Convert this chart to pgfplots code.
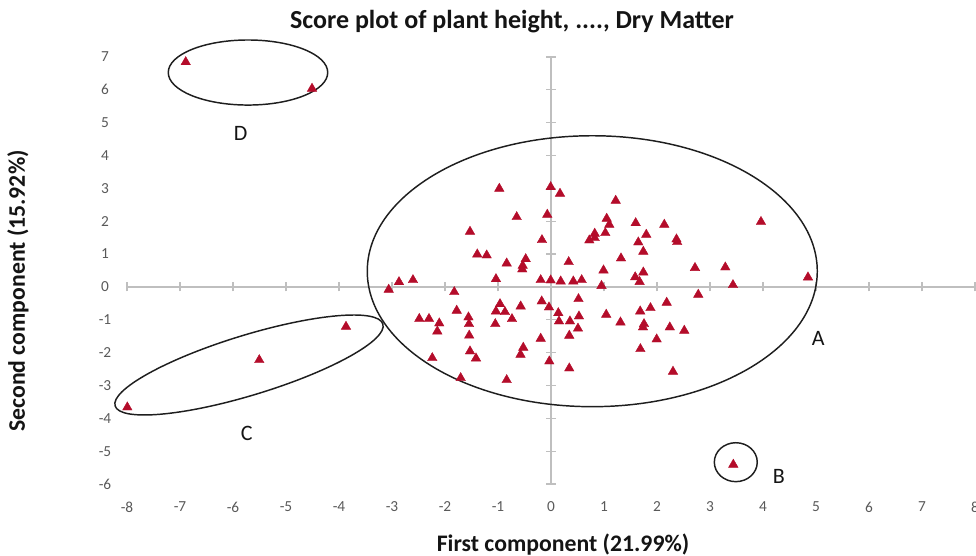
\documentclass[border=0pt]{standalone}
\usepackage{pgfplots}
\pgfplotsset{compat=1.18}
\usepackage{fontspec}
\setmainfont{Carlito}
\definecolor{mk}{RGB}{180,12,42}
\definecolor{axgray}{RGB}{191,191,191}
\definecolor{lblgray}{RGB}{89,89,89}
\definecolor{ellcol}{RGB}{30,30,30}
\definecolor{txt}{RGB}{20,20,20}

\begin{document}
\begin{tikzpicture}
\begin{axis}[
  scale only axis, width=636pt, height=320.25pt,
  xmin=-8, xmax=8, ymin=-6, ymax=7,
  clip=false,
  axis line style={draw=none},
  major tick length=0pt,
  xtick={-8,-7,-6,-5,-4,-3,-2,-1,0,1,2,3,4,5,6,7,8},
  ytick={-6,-5,-4,-3,-2,-1,0,1,2,3,4,5,6,7},
  xticklabels={-8,-7,-6,-5,-4,-3,-2,-1,0,1,2,3,4,5,6,7,8},
  yticklabels={-6,-5,-4,-3,-2,-1,0,1,2,3,4,5,6,7},
  xticklabel style={anchor=center, yshift=-17.25pt, font=\fontsize{11.5}{13}\selectfont, text=lblgray},
  yticklabel style={anchor=center, xshift=-16.5pt, font=\fontsize{11.5}{13}\selectfont, text=lblgray},
]
\draw[axgray, line width=0.9pt] (axis cs:-8,0) -- (axis cs:8,0);
\draw[axgray, line width=0.9pt] (axis cs:0,-6) -- (axis cs:0,7);
\pgfplotsinvokeforeach{-8,-7,-6,-5,-4,-3,-2,-1,0,1,2,3,4,5,6,7,8}{\draw[axgray, line width=0.9pt] ([yshift=-3.4pt]axis cs:#1,0) -- ([yshift=3.4pt]axis cs:#1,0);}
\pgfplotsinvokeforeach{-6,-5,-4,-3,-2,-1,0,1,2,3,4,5,6,7}{\draw[axgray, line width=0.9pt] ([xshift=-3.4pt]axis cs:0,#1) -- ([xshift=3.4pt]axis cs:0,#1);}

\draw[ellcol, line width=1.1pt] (axis cs:0.779,0.478) ellipse [x radius=168.75pt, y radius=101.6pt];
\draw[ellcol, line width=1.1pt] (axis cs:-5.717,6.527) ellipse [x radius=59.8pt, y radius=24.4pt];
\draw[ellcol, line width=1.1pt] (axis cs:3.487,-5.336) ellipse [x radius=16.1pt, y radius=14.6pt];
\draw[ellcol, line width=1.1pt, rotate around={17:(axis cs:-5.698,-2.377)}] (axis cs:-5.698,-2.377) ellipse [x radius=105pt, y radius=22.5pt];

\addplot[only marks, mark=triangle*, mark size=4.1pt, mark options={fill=mk, draw=mk, line width=0.3pt}] coordinates {
(-0.975,2.992) (-0.006,3.041) (0.170,2.840) (-0.647,2.128) (-0.070,2.201)
(-1.528,1.683) (-0.170,1.428) (-1.391,0.992) (-1.213,0.962) (0.334,0.758)
(-0.836,0.718) (-0.477,0.849) (-0.534,0.648) (-0.542,0.536) (-2.868,0.149)
(-2.604,0.210) (-1.038,0.240) (-0.194,0.210) (-0.006,0.201) (0.183,0.170)
(0.421,0.170) (-3.062,-0.082) (-1.825,-0.155) (1.221,2.627) (1.051,2.079)
(1.100,1.897) (1.598,1.945) (2.138,1.897) (0.825,1.623) (1.025,1.641)
(0.723,1.419) (0.825,1.489) (1.798,1.592) (1.647,1.358) (2.368,1.449)
(2.381,1.367) (3.962,1.982) (1.742,1.075) (1.321,0.871) (0.991,0.505)
(1.742,0.444) (1.589,0.298) (1.672,0.155) (2.717,0.581) (3.289,0.597)
(4.849,0.292) (0.579,0.210) (0.953,0.033) (3.434,0.058) (0.519,-0.368)
(2.779,-0.234) (2.183,-0.478) (-0.962,-0.521) (-1.038,-0.743) (-0.868,-0.764)
(-0.572,-0.591) (-0.736,-0.977) (-1.051,-1.129) (-0.175,-0.438) (-0.038,-0.621)
(0.138,-0.795) (0.151,-1.047) (0.358,-1.047) (0.528,-0.895) (0.509,-1.266)
(0.345,-1.482) (-0.194,-1.574) (-0.523,-1.848) (-0.575,-2.061) (-0.032,-2.265)
(0.345,-2.478) (-0.836,-2.834) (-1.704,-2.773) (-2.240,-2.164) (-1.528,-1.960)
(-1.415,-2.174) (-1.543,-1.479) (-1.547,-1.129) (-1.557,-0.925) (-1.779,-0.721)
(-2.485,-0.971) (-2.302,-0.971) (-2.108,-1.108) (-2.145,-1.352) (1.042,-0.843)
(1.311,-1.078) (1.683,-0.743) (1.877,-0.642) (1.755,-1.129) (1.736,-1.230)
(2.242,-1.230) (2.515,-1.330) (1.994,-1.595) (1.687,-1.890) (2.302,-2.578)
(-6.892,6.846) (-4.509,6.037) (-7.994,-3.665) (-5.504,-2.225) (-3.868,-1.209)
(3.440,-5.409)
};

\node[text=txt, font=\fontsize{16.5}{18}\selectfont] at (axis cs:5.043,-1.565) {A};
\node[text=txt, font=\fontsize{16.5}{18}\selectfont] at (axis cs:4.30,-5.778) {B};
\node[text=txt, font=\fontsize{16.5}{18}\selectfont] at (axis cs:-5.742,-4.457) {C};
\node[text=txt, font=\fontsize{16.5}{18}\selectfont] at (axis cs:-5.855,4.676) {D};
\end{axis}
\node[text=txt, font=\bfseries\fontsize{19.5}{22}\selectfont] at (288.75pt,346.5pt) {Score plot of plant height, ...., Dry Matter};
\node[text=txt, font=\bfseries\fontsize{17.8}{20}\selectfont] at (327pt,-45.75pt) {First component (21.99\%)};
\node[text=txt, font=\bfseries\fontsize{17.8}{20}\selectfont, rotate=90] at (-81.75pt,144.75pt) {Second component (15.92\%)};
\pgfresetboundingbox
\path (-95.25pt,-54pt) rectangle (636.75pt,363pt);
\end{tikzpicture}
\end{document}
